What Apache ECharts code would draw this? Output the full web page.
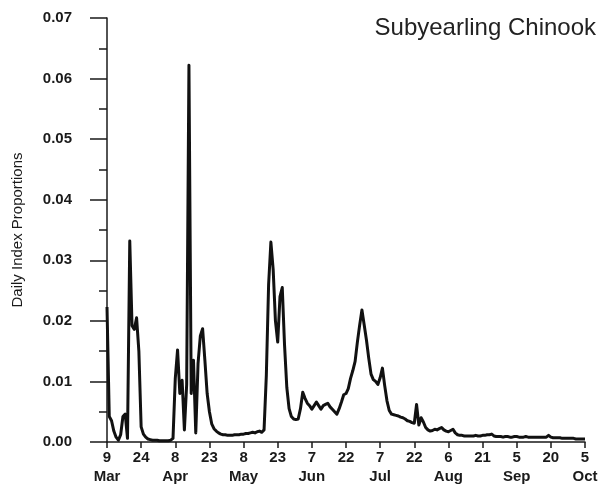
<!DOCTYPE html>
<html>
<head>
<meta charset="utf-8">
<script src="https://cdn.jsdelivr.net/npm/echarts@6/dist/echarts.min.js"></script>
<style>
html,body{margin:0;padding:0;background:#fff;}
#chart{width:608px;height:486px;}
</style>
</head>
<body>
<div id="chart"></div>
<script>
// Days since 9 March (x), one value per day
var dailyProportions = [
  0.0223, 0.0042, 0.0035, 0.0018, 0.0008, 0.0003, 0.0012, 0.0042, 0.0046, 0.0006,
  0.0332, 0.0192, 0.0186, 0.0205, 0.0150, 0.0025, 0.0013, 0.0008, 0.0005, 0.0004,
  0.0003, 0.0003, 0.0003, 0.0002, 0.0002, 0.0002, 0.0002, 0.0002, 0.0003, 0.0006,
  0.0105, 0.0152, 0.0080, 0.0102, 0.0020, 0.0095, 0.0622, 0.0080, 0.0135, 0.0015,
  0.0130, 0.0175, 0.0187, 0.0135, 0.0080, 0.0050, 0.0030, 0.0022, 0.0018, 0.0015,
  0.0013, 0.0012, 0.0012, 0.0011, 0.0011, 0.0011, 0.0012, 0.0012, 0.0012, 0.0013,
  0.0013, 0.0014, 0.0014, 0.0015, 0.0016, 0.0015, 0.0017, 0.0018, 0.0016, 0.0020,
  0.0110, 0.0260, 0.0330, 0.0285, 0.0200, 0.0165, 0.0240, 0.0255, 0.0160, 0.0090,
  0.0055, 0.0042, 0.0038, 0.0037, 0.0038, 0.0055, 0.0082, 0.0072, 0.0064, 0.0060,
  0.0054, 0.0060, 0.0066, 0.0060, 0.0054, 0.0060, 0.0062, 0.0064, 0.0058, 0.0054,
  0.0050, 0.0046, 0.0055, 0.0066, 0.0078, 0.0080, 0.0088, 0.0105, 0.0118, 0.0133,
  0.0165, 0.0193, 0.0218, 0.0193, 0.0168, 0.0138, 0.0112, 0.0103, 0.0100, 0.0095,
  0.0106, 0.0122, 0.0093, 0.0068, 0.0052, 0.0046, 0.0045, 0.0044, 0.0043, 0.0041,
  0.0040, 0.0038, 0.0035, 0.0034, 0.0032, 0.0031, 0.0062, 0.0028, 0.0040, 0.0033,
  0.0024, 0.0020, 0.0018, 0.0019, 0.0021, 0.0020, 0.0022, 0.0024, 0.0020, 0.0018,
  0.0017, 0.0019, 0.0021, 0.0015, 0.0012, 0.0011, 0.0011, 0.0010, 0.0010, 0.0010,
  0.0010, 0.0010, 0.0011, 0.0010, 0.0010, 0.0011, 0.0011, 0.0012, 0.0012, 0.0013,
  0.0010, 0.0009, 0.0009, 0.0009, 0.0008, 0.0009, 0.0009, 0.0008, 0.0008, 0.0009,
  0.0009, 0.0008, 0.0008, 0.0008, 0.0009, 0.0008, 0.0008, 0.0008, 0.0008, 0.0008,
  0.0008, 0.0008, 0.0008, 0.0008, 0.0011, 0.0008, 0.0007, 0.0007, 0.0007, 0.0007,
  0.0006, 0.0006, 0.0006, 0.0006, 0.0006, 0.0006, 0.0005, 0.0005, 0.0005, 0.0005,
  0.0005
];
var xTickLabels = ["9\nMar", "24", "8\nApr", "23", "8\nMay", "23", "7\nJun", "22",
                   "7\nJul", "22", "6\nAug", "21", "5\nSep", "20", "5\nOct"];
var titleText = "Subyearling Chinook";
var yAxisTitle = "Daily Index Proportions";

var seriesData = dailyProportions.map(function (v, i) { return [i, v]; });

var chart = echarts.init(document.getElementById('chart'), null, {renderer: 'canvas'});
var ink = '#1a1a1a';
var fam = 'Liberation Sans, Arial, sans-serif';
chart.setOption({
  animation: false,
  backgroundColor: '#ffffff',
  title: {
    text: titleText,
    right: 7,
    top: 11,
    textStyle: {fontFamily: fam, fontSize: 24, fontWeight: 'normal', color: '#222'}
  },
  grid: {left: 107, right: 23, top: 18, bottom: 41, containLabel: false},
  xAxis: {
    type: 'value',
    min: 0, max: 210, interval: 15,
    axisLine: {show: true, lineStyle: {color: ink, width: 1.5}},
    axisTick: {show: true, length: 6, inside: false, lineStyle: {color: ink, width: 1.5}},
    splitLine: {show: false},
    axisLabel: {
      margin: 6,
      lineHeight: 19,
      color: ink,
      fontFamily: fam,
      fontSize: 15,
      fontWeight: 'bold',
      showMinLabel: true,
      showMaxLabel: true,
      formatter: function (v) { return xTickLabels[Math.round(v / 15)] || ''; }
    }
  },
  yAxis: {
    type: 'value',
    min: 0, max: 0.07, interval: 0.01,
    name: yAxisTitle,
    nameLocation: 'middle',
    nameRotate: 90,
    nameGap: 82,
    nameTextStyle: {fontFamily: fam, fontSize: 15, color: ink},
    axisLine: {show: true, lineStyle: {color: ink, width: 1.5}},
    axisTick: {show: true, length: 17, inside: false, lineStyle: {color: ink, width: 1.5}},
    minorTick: {show: true, splitNumber: 2, length: 8, lineStyle: {color: ink, width: 1.5}},
    splitLine: {show: false},
    axisLabel: {
      margin: 35,
      color: ink,
      fontFamily: fam,
      fontSize: 15,
      fontWeight: 'bold',
      formatter: function (v) { return v.toFixed(2); }
    }
  },
  series: [{
    type: 'line',
    data: seriesData,
    showSymbol: false,
    smooth: false,
    lineStyle: {color: '#111', width: 3, join: 'round'},
    z: 3
  }]
});
</script>
</body>
</html>
